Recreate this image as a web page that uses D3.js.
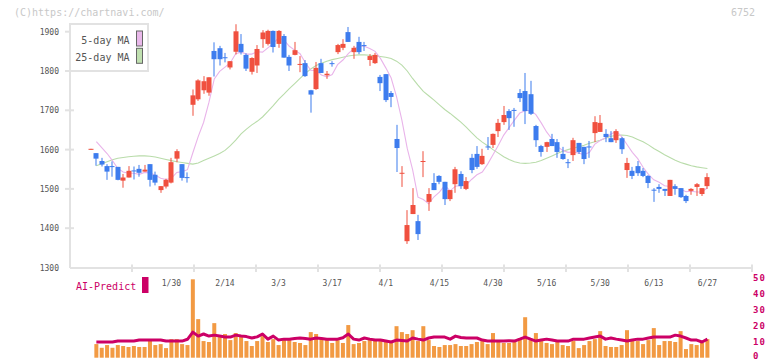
<!DOCTYPE html>
<html><head><meta charset="utf-8">
<script src="https://cdn.jsdelivr.net/npm/d3@7"></script>
<style>body{margin:0;background:#fff;} svg{display:block;font-family:"DejaVu Sans Mono",monospace;}</style>
</head><body><svg id="c" width="772" height="361"></svg>
<script>
const dates = ["1/8","1/9","1/10","1/14","1/15","1/16","1/17","1/20","1/21","1/22","1/23","1/24","1/27","1/28","1/29","1/30","1/31",
"2/3","2/4","2/5","2/6","2/7","2/10","2/12","2/13","2/14","2/17","2/18","2/19","2/20","2/21","2/25","2/26","2/27","2/28",
"3/3","3/4","3/5","3/6","3/7","3/10","3/11","3/12","3/13","3/14","3/17","3/18","3/19","3/21","3/24","3/25","3/26","3/27","3/28","3/31",
"4/1","4/2","4/3","4/4","4/7","4/8","4/9","4/10","4/11","4/14","4/15","4/16","4/17","4/18","4/21","4/22","4/23","4/24","4/25","4/28","4/30",
"5/1","5/2","5/7","5/8","5/9","5/12","5/13","5/14","5/15","5/16","5/19","5/20","5/21","5/22","5/23","5/26","5/27","5/28","5/29","5/30",
"6/2","6/3","6/4","6/5","6/6","6/9","6/10","6/11","6/12","6/13","6/16","6/17","6/18","6/19","6/20","6/23","6/24","6/25","6/26","6/27"];

const opens = [1601,1591,1571,1558,1558,1556,1521,1529,1547,1551,1544,1563,1536,1497,1506,1516,1577,1563,1530,1714,
1728,1751,1745,1851,1858,1835,1809,1849,1869,1841,1798,1814,1881,1869,1902,1869,1889,1836,1841,1816,
1820,1751,1754,1820,1789,1820,1848,1859,1899,1848,1874,1866,1828,1820,1785,1792,1744,1627,1539,1367,
1436,1418,1569,1467,1515,1533,1518,1474,1512,1538,1500,1579,1589,1563,1608,1612,1647,1670,1698,1701,
1744,1749,1741,1660,1609,1607,1627,1619,1589,1568,1586,1617,1607,1608,1642,1645,1640,1629,1624,1629,
1548,1546,1558,1546,1533,1498,1505,1500,1482,1507,1502,1482,1495,1505,1487,1507];
const highs = [1602,1591,1579,1563,1570,1556,1538,1558,1557,1561,1561,1563,1544,1507,1526,1579,1601,1563,1542,1753,
1779,1787,1784,1873,1864,1846,1825,1919,1894,1845,1835,1866,1904,1905,1903,1904,1894,1841,1874,1838,
1828,1752,1823,1831,1800,1825,1869,1881,1912,1864,1887,1874,1843,1846,1790,1792,1749,1663,1558,1446,
1502,1434,1596,1502,1540,1535,1518,1497,1556,1545,1530,1589,1609,1602,1632,1641,1678,1711,1703,1706,
1754,1795,1775,1663,1612,1620,1640,1627,1607,1576,1630,1617,1607,1622,1685,1688,1652,1647,1652,1632,
1579,1556,1571,1553,1535,1502,1512,1500,1523,1512,1502,1485,1502,1515,1502,1540];
const lows = [1601,1559,1557,1523,1531,1522,1503,1529,1524,1531,1544,1506,1509,1490,1501,1514,1568,1521,1516,1686,
1724,1742,1737,1786,1814,1822,1804,1842,1842,1800,1791,1795,1859,1865,1847,1859,1834,1800,1840,1797,
1785,1694,1752,1795,1780,1811,1843,1853,1874,1831,1843,1851,1813,1818,1749,1721,1708,1543,1505,1360,
1436,1370,1530,1444,1497,1512,1459,1469,1490,1500,1497,1540,1551,1561,1599,1604,1632,1663,1650,1658,
1721,1665,1688,1607,1582,1594,1609,1579,1574,1553,1571,1589,1563,1579,1619,1645,1619,1619,1617,1589,
1528,1525,1533,1530,1502,1467,1490,1482,1482,1485,1477,1464,1485,1482,1482,1500];
const closes = [1602,1577,1562,1544,1556,1523,1529,1546,1545,1541,1549,1523,1516,1507,1523,1568,1596,1528,1528,1738,
1776,1774,1784,1830,1830,1833,1825,1901,1848,1806,1833,1856,1898,1902,1861,1902,1834,1814,1853,1818,
1787,1740,1808,1795,1793,1818,1866,1869,1874,1859,1848,1864,1838,1841,1769,1726,1734,1604,1541,1408,
1459,1385,1571,1487,1497,1518,1474,1497,1550,1507,1520,1548,1556,1584,1606,1640,1668,1688,1680,1699,
1731,1698,1691,1624,1594,1619,1609,1594,1576,1566,1624,1594,1576,1606,1670,1668,1632,1619,1647,1601,
1566,1533,1540,1533,1515,1496,1500,1495,1523,1500,1479,1469,1500,1512,1502,1530];

const ma5 = [null,1620,1605,1590,1572,1552,1543,1540,1540,1537,1542,1541,1535,1527,1524,1527,1542,1544,1549,1592,
1633,1669,1720,1780,1799,1810,1821,1844,1848,1843,1843,1849,1848,1859,1870,1884,1879,1863,1853,1844,
1821,1802,1801,1790,1785,1791,1816,1828,1844,1857,1863,1863,1857,1850,1832,1808,1782,1735,1675,1603,
1549,1479,1473,1462,1480,1492,1509,1495,1507,1509,1510,1524,1536,1543,1563,1587,1611,1637,1656,1675,
1693,1699,1700,1689,1668,1645,1627,1608,1598,1593,1594,1591,1587,1593,1614,1623,1630,1639,1647,1633,
1613,1593,1577,1555,1537,1523,1517,1508,1506,1503,1499,1493,1494,1492,1492,1503];
const ma25 = [null,1559,1564,1569,1574,1578,1580,1582,1583,1584,1584,1583,1581,1578,1575,1572,1569,1567,1565,1563,
1566,1572,1578,1584,1590,1598,1610,1624,1640,1652,1663,1672,1683,1697,1712,1728,1741,1755,1768,1781,
1794,1805,1814,1820,1825,1829,1832,1835,1838,1840,1841,1841,1840,1839,1837,1835,1832,1825,1815,1800,
1781,1764,1748,1737,1726,1714,1702,1692,1681,1670,1657,1643,1630,1619,1610,1600,1591,1582,1575,1569,
1566,1565,1566,1568,1572,1578,1584,1590,1596,1600,1604,1607,1611,1616,1620,1624,1629,1634,1636,1637,
1636,1632,1626,1620,1612,1603,1595,1587,1580,1573,1567,1563,1559,1556,1554,1552];

const volume = [null,8.5,6.2,7.9,6.2,7.9,7.3,6.7,7.3,6.7,6.7,11.6,7.9,8.5,6.0,11.6,11.6,8.5,7.9,49.0,
24.1,10.4,9.8,21.6,12.9,14.8,11.0,15.4,12.9,10.4,7.3,10.4,13.5,9.8,11.6,7.9,11.0,11.0,9.8,9.2,
7.9,16.0,14.8,12.3,11.0,9.2,11.0,9.2,20.4,8.5,9.2,10.4,12.3,11.0,10.4,9.8,9.2,19.7,16.0,14.8,
17.2,10.4,19.7,11.0,7.3,6.7,7.9,7.9,8.5,7.3,7.3,8.5,9.8,10.4,8.5,15.4,9.8,9.2,9.2,9.8,
12.3,25.3,11.0,15.4,10.4,9.2,8.5,9.8,7.9,7.3,10.4,6.0,7.9,10.4,11.6,16.6,7.3,6.7,6.7,7.9,
17.2,11.0,10.4,8.5,11.0,18.5,7.9,10.4,10.4,9.8,16.6,5.4,8.5,7.9,9.2,11.6];
const aiPredict = [null,9.8,9.8,9.8,9.8,10.4,10.4,10.4,10.4,11.0,11.0,11.0,11.0,11.0,10.4,10.4,10.4,10.4,11.5,16.0,
13.5,14.8,13.5,14.1,13.5,12.9,12.9,14.1,13.5,13.2,12.3,13.0,14.8,11.6,13.5,11.0,11.6,11.6,12.0,12.3,
12.0,11.6,12.3,12.0,11.6,11.6,11.6,12.5,14.8,11.6,11.0,12.3,11.6,11.0,11.0,10.4,9.8,11.0,10.8,10.4,
12.3,11.6,11.0,12.3,12.9,12.9,12.9,11.6,13.5,12.6,12.3,12.3,12.3,11.0,10.4,10.4,10.4,10.4,10.6,10.4,
11.6,12.9,11.6,10.4,11.0,11.6,11.0,10.4,10.4,10.4,11.6,11.6,11.6,12.3,12.9,13.5,11.6,12.3,11.6,11.0,
10.4,11.0,11.6,11.6,12.3,12.9,12.9,12.9,12.9,14.1,13.5,12.3,11.0,11.0,9.8,11.6];

const priceTicks = [1300,1400,1500,1600,1700,1800,1900];
const volTicks = [0,10,20,30,40,50];
const labelDates = ["1/30","2/14","3/3","3/17","4/1","4/15","4/30","5/16","5/30","6/13","6/27"];

const svg = d3.select("#c");
const x = d3.scalePoint().domain(dates).range([91, 707.4]);
const y = d3.scaleLinear().domain([1300, 1900]).range([267.5, 31.7]);
const yv = d3.scaleLinear().domain([0, 50]).range([357.7, 277.7]);
const grid = d3.scaleLinear().domain([0, 11]).range([70, 752]);

const UP = "#f0503f", DOWN = "#3d7cee", AXIS = "#e2e2e2", TXT = "#555";

// watermark
svg.append("text").attr("x", 14).attr("y", 16).attr("font-size", 10).attr("fill", "#c8c8c8").text("(C)https://chartnavi.com/");
svg.append("text").attr("x", 755).attr("y", 16).attr("text-anchor", "end").attr("font-size", 10).attr("fill", "#c8c8c8").text("6752");

// axes
svg.append("line").attr("x1", 70).attr("x2", 70).attr("y1", 24).attr("y2", 268).attr("stroke", AXIS).attr("stroke-width", 2);
svg.append("line").attr("x1", 70).attr("x2", 753).attr("y1", 268).attr("y2", 268).attr("stroke", AXIS).attr("stroke-width", 2);
svg.selectAll(".xt").data(d3.range(1, 12)).enter().append("line")
  .attr("x1", d => grid(d)).attr("x2", d => grid(d)).attr("y1", 264.5).attr("y2", 272).attr("stroke", AXIS).attr("stroke-width", 2);
svg.selectAll(".yt").data(priceTicks.slice(1)).enter().append("line")
  .attr("x1", 65).attr("x2", 74).attr("y1", d => y(d)).attr("y2", d => y(d)).attr("stroke", AXIS).attr("stroke-width", 2);
svg.selectAll(".yl").data(priceTicks).enter().append("text")
  .attr("x", 59).attr("y", d => y(d) + 3).attr("text-anchor", "end").attr("font-size", 8).attr("fill", TXT).text(d => d);

// x labels
svg.selectAll(".xl").data(labelDates).enter().append("text")
  .attr("x", d => x(d)).attr("y", 285.5).attr("text-anchor", "middle").attr("font-size", 8).attr("fill", TXT).text(d => d);

// MA lines
const idx = d3.range(dates.length);
const lineOf = (arr, sc) => d3.line().defined(i => arr[i] != null).x(i => x(dates[i])).y(i => sc(arr[i]));
svg.append("path").attr("d", lineOf(ma25, y)(idx)).attr("fill", "none").attr("stroke", "#b9dcaa").attr("stroke-width", 1.1);
svg.append("path").attr("d", lineOf(ma5, y)(idx)).attr("fill", "none").attr("stroke", "#e9b4ea").attr("stroke-width", 1.1);

// candles
const cw = 5;
const g = svg.append("g");
idx.forEach(i => {
  const cx = Math.round(x(dates[i]));
  const col = closes[i] >= opens[i] ? UP : DOWN;
  g.append("rect").attr("x", cx - 0.5).attr("width", 1).attr("y", y(highs[i])).attr("height", Math.max(1, y(lows[i]) - y(highs[i]))).attr("fill", col);
  const top = y(Math.max(opens[i], closes[i])), bot = y(Math.min(opens[i], closes[i]));
  g.append("rect").attr("x", cx - cw / 2).attr("width", cw).attr("y", top).attr("height", Math.max(1, bot - top)).attr("fill", col);
});

// legend
svg.append("rect").attr("x", 70).attr("y", 24).attr("width", 78).attr("height", 47).attr("fill", "#fff").attr("stroke", AXIS).attr("stroke-width", 2);
const leg = [["5-day MA", "#e9b8ea", 43.5, 31], ["25-day MA", "#c0e0b0", 60.5, 48.3]];
leg.forEach(l => {
  svg.append("text").attr("x", 129.5).attr("y", l[2]).attr("text-anchor", "end").attr("font-size", 10).attr("fill", TXT).text(l[0]);
  svg.append("rect").attr("x", 136.5).attr("y", l[3]).attr("width", 6).attr("height", 15).attr("fill", l[1]).attr("stroke", "#666").attr("stroke-width", 1);
});

// volume
svg.selectAll(".vb").data(idx.filter(i => volume[i] != null)).enter().append("rect")
  .attr("x", i => x(dates[i]) - 2).attr("width", 4)
  .attr("y", i => yv(volume[i])).attr("height", i => yv(0) - yv(volume[i])).attr("fill", "#f29a43");
svg.append("path").attr("d", lineOf(aiPredict, yv)(idx)).attr("fill", "none").attr("stroke", "#cc0066").attr("stroke-width", 3).attr("stroke-linejoin", "round");
svg.selectAll(".vl").data(volTicks).enter().append("text")
  .attr("x", 753).attr("y", d => Math.min(yv(d) + 3, 359)).attr("font-size", 9).attr("font-weight", "bold").attr("letter-spacing", 1).attr("fill", "#cc0066").text(d => d);

svg.append("text").attr("x", 76).attr("y", 290).attr("font-size", 10).attr("fill", "#cc0066").text("AI-Predict");
svg.append("rect").attr("x", 142).attr("y", 277).attr("width", 6.5).attr("height", 16).attr("fill", "#cc0066");
</script></body></html>
